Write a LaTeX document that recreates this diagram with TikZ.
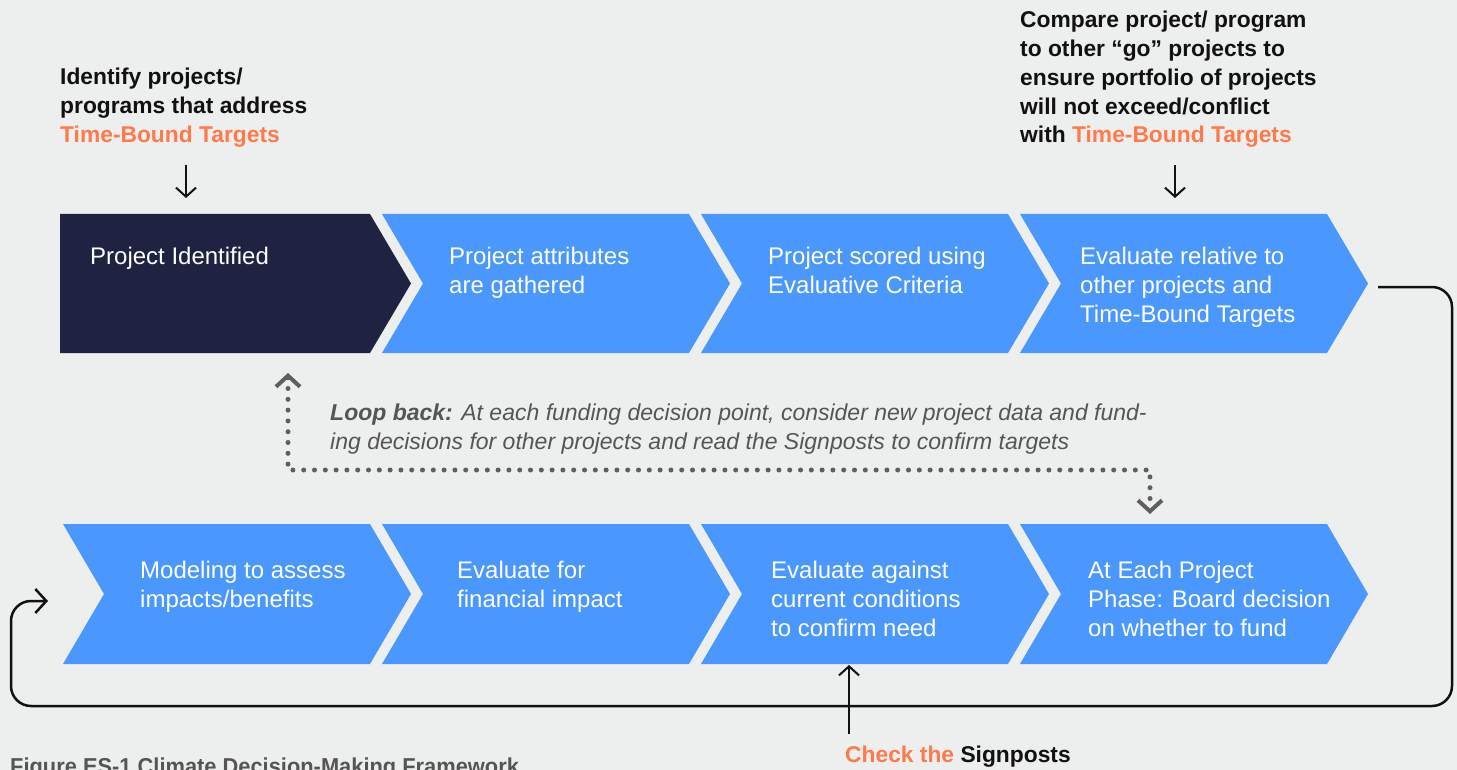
\documentclass[tikz,border=0pt]{standalone}
\usepackage{fontspec}
\setmainfont{Liberation Sans}
\newfontfamily\capfont[FakeStretch=0.95]{Liberation Sans}
\usetikzlibrary{arrows.meta}
\definecolor{bg}{HTML}{EDEFEE}
\definecolor{chblue}{HTML}{4A97FD}
\definecolor{chdark}{HTML}{1F2240}
\definecolor{orng}{HTML}{FF7A4B}
\definecolor{loopgray}{HTML}{5E5E5E}
\definecolor{txtgray}{HTML}{555555}
\definecolor{ink}{HTML}{111111}
\begin{document}
\begin{tikzpicture}[x=1pt,y=-1pt,
  steptext/.style={anchor=north west, inner sep=0pt, align=left, text=white, font=\fontsize{24}{29}\selectfont},
  note/.style={anchor=north west, inner sep=0pt, align=left, text=ink, font=\bfseries\fontsize{22.8}{28.8}\selectfont},
  looptext/.style={anchor=north west, inner sep=0pt, align=left, text=txtgray, font=\itshape\fontsize{23}{29}\selectfont},
  thinarrow/.style={draw=ink, line width=2pt, -{Straight Barb[length=9pt, width=20pt, line width=2pt]}},
  feedback/.style={draw=ink, line width=2.5pt, rounded corners=20pt, -{Straight Barb[length=11pt, width=24pt, line width=2.5pt]}},
  dotline/.style={draw=loopgray, line width=5pt, line cap=round, dash pattern=on 0pt off 10.8pt,
    {Straight Barb[length=11pt, width=24pt, line width=4pt]}-{Straight Barb[length=11pt, width=24pt, line width=4pt]}}
]
\fill[bg] (0,0) rectangle (1457,770);
\useasboundingbox (0,0) rectangle (1457,770);

% row 1 chevrons
\fill[chdark] (60,214) -- (370,214) -- (411,283.5) -- (370,353) -- (60,353) -- cycle;
\foreach \L in {382,701,1020}
  \fill[chblue] (\L,214) -- (\L+307,214) -- (\L+348,283.5) -- (\L+307,353) -- (\L,353) -- (\L+41,283.5) -- cycle;
% row 2 chevrons
\fill[chblue] (63,524) -- (370,524) -- (411,594) -- (370,664) -- (63,664) -- (104,594) -- cycle;
\foreach \L in {382,701,1020}
  \fill[chblue] (\L,524) -- (\L+307,524) -- (\L+348,594) -- (\L+307,664) -- (\L,664) -- (\L+41,594) -- cycle;

% step texts
\node[steptext] (t1) at (90,247) {Project Identified};
\node[steptext] (t2) at (449,247) {Project attributes\\are gathered};
\node[steptext] (t3) at (768,247) {Project scored using\\Evaluative Criteria};
\node[steptext] (t4) at (1080,247) {Evaluate relative to\\other projects and\\Time-Bound Targets};
\node[steptext] (t5) at (140,561) {Modeling to assess\\impacts/benefits};
\node[steptext] (t6) at (457,561) {Evaluate for\\financial impact};
\node[steptext] (t7) at (771,561) {Evaluate against\\current conditions\\to confirm need};
\node[steptext] (t8) at (1088,561) {At Each Project\\Phase: Board decision\\on whether to fund};

% notes
\node[note] (n1) at (60,68) {Identify projects/\\programs that address\\\textcolor{orng}{Time-Bound Targets}};
\node[note] (n2) at (1020,11) {Compare project/ program\\to other “go” projects to\\ensure portfolio of projects\\will not exceed/conflict\\with \textcolor{orng}{Time-Bound Targets}};
\node[note] (chk) at (845,746) {\textcolor{orng}{Check the} Signposts};

% loop text
\node[looptext] (lt) at (330,404) {\textbf{Loop back:} At each funding decision point, consider new project data and fund-\\ing decisions for other projects and read the Signposts to confirm targets};

% caption (cut by page edge, as in the reference)
\node[anchor=north west, inner sep=0pt, text=txtgray, font=\capfont\bfseries\fontsize{23}{26}\selectfont] (cap) at (10,758) {Figure ES-1 Climate Decision-Making Framework};

% coordinates for connectors
\coordinate (a1s) at (186,165); \coordinate (a1e) at (186,198);
\coordinate (a2s) at (1175,165); \coordinate (a2e) at (1175,198);
\coordinate (sgs) at (849,734); \coordinate (sge) at (849,665);
\coordinate (fbs) at (1378,287); \coordinate (fbe) at (48,601);
\coordinate (lpa) at (288,373); \coordinate (lpb) at (1150,514);

\draw[thinarrow] (a1s) -- (a1e);
\draw[thinarrow] (a2s) -- (a2e);
\draw[thinarrow] (sgs) -- (sge);
\draw[feedback] (fbs) -- (1452,287) -- (1452,706) -- (11,706) -- (11,601) -- (fbe);
\draw[dotline] (lpa) -- (288,470) -- (1150,470) -- (lpb);
\end{tikzpicture}
\end{document}
